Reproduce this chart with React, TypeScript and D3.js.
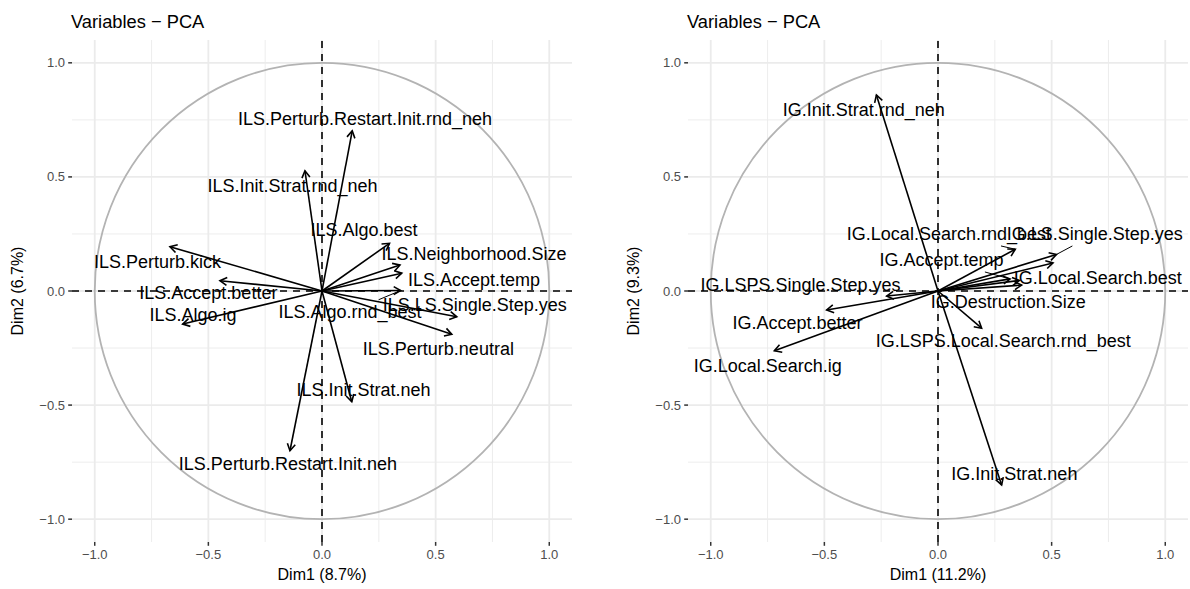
import React from "react";
import * as d3 from "d3";

// ILS variables (left panel): coordinates on Dim1 / Dim2 and where ggrepel put the labels
const ilsNames = [
  "ILS.Perturb.Restart.Init.rnd_neh",
  "ILS.Init.Strat.rnd_neh",
  "ILS.Algo.best",
  "ILS.Neighborhood.Size",
  "ILS.Accept.temp",
  "ILS.Algo.rnd_best",
  "ILS.LS.Single.Step.yes",
  "ILS.Perturb.neutral",
  "ILS.Perturb.kick",
  "ILS.Accept.better",
  "ILS.Algo.ig",
  "ILS.Init.Strat.neh",
  "ILS.Perturb.Restart.Init.neh",
];
const ilsDim1 = [0.133, -0.075, 0.297, 0.343, 0.351, 0.346, 0.593, 0.571, -0.669, -0.449, -0.613, 0.131, -0.141];
const ilsDim2 = [0.702, 0.527, 0.209, 0.114, 0.078, 0.002, -0.113, -0.19, 0.194, 0.045, -0.145, -0.485, -0.7];
const ilsLabelX = [0.189, -0.13, 0.185, 0.669, 0.669, 0.123, 0.672, 0.512, -0.724, -0.5, -0.568, 0.183, -0.15];
const ilsLabelY = [0.754, 0.46, 0.267, 0.162, 0.048, -0.091, -0.061, -0.255, 0.128, -0.006, -0.105, -0.431, -0.755];

// IG variables (right panel); one arrow lost its label (too many overlaps)
const igNames = [
  "IG.Init.Strat.rnd_neh",
  "IG.Local.Search.rnd_best",
  "IG.LS.Single.Step.yes",
  "IG.Local.Search.best",
  "IG.Accept.temp",
  "",
  "IG.Destruction.Size",
  "IG.LSPS.Single.Step.yes",
  "IG.Accept.better",
  "IG.Local.Search.ig",
  "IG.LSPS.Local.Search.rnd_best",
  "IG.Init.Strat.neh",
];
const igDim1 = [-0.271, 0.34, 0.521, 0.506, 0.317, 0.358, 0.368, -0.226, -0.49, -0.72, 0.192, 0.28];
const igDim2 = [0.859, 0.183, 0.16, 0.123, 0.053, 0.046, 0.026, -0.022, -0.083, -0.262, -0.163, -0.85];
const igLabelX = [-0.327, 0.048, 0.69, 0.703, 0.015, 0, 0.309, -0.605, -0.618, -0.749, 0.287, 0.336];
const igLabelY = [0.796, 0.25, 0.25, 0.06, 0.136, 0, -0.047, 0.026, -0.139, -0.329, -0.219, -0.799];

const majorTicks = [-1, -0.5, 0, 0.5, 1];
const minorTicks = [-0.75, -0.25, 0.25, 0.75];

const FONT = '"Liberation Sans", Arial, Helvetica, sans-serif';
const LABEL_SIZE = 18;

const ctx = document.createElement("canvas").getContext("2d");
function textWidth(s: string, size: number) {
  if (!ctx) return s.length * size * 0.5;
  ctx.font = `${size}px "Liberation Sans"`;
  return ctx.measureText(s).width;
}

type PanelProps = {
  left: number;
  names: string[];
  dim1: number[];
  dim2: number[];
  labelX: number[];
  labelY: number[];
  xTitle: string;
  yTitle: string;
};

function Panel({ left, names, dim1, dim2, labelX, labelY, xTitle, yTitle }: PanelProps) {
  const x = d3.scaleLinear().domain([-1.1, 1.1]).range([left, left + 500]);
  const y = d3.scaleLinear().domain([-1.1, 1.1]).range([542, 40]);
  const fmt = d3.format(".1f");
  const [x0, x1] = x.range();
  const [y1, y0] = y.range();
  const cx = x(0);
  const cy = y(0);

  const arrows = dim1.map((d, i) => {
    const tx = x(d);
    const ty = y(dim2[i]);
    const ang = Math.atan2(ty - cy, tx - cx);
    const len = 8;
    const a1 = ang + Math.PI - Math.PI / 6;
    const a2 = ang + Math.PI + Math.PI / 6;
    const head = `M${tx + len * Math.cos(a1)},${ty + len * Math.sin(a1)}L${tx},${ty}L${tx + len * Math.cos(a2)},${ty + len * Math.sin(a2)}`;
    return { tx, ty, head };
  });

  // repel-style segments: only when the label box sits away from its arrow tip
  const labels = names.map((name, i) => {
    const lx = x(labelX[i]);
    const ly = y(labelY[i]);
    const hw = textWidth(name, LABEL_SIZE) / 2 + 3;
    const hh = LABEL_SIZE / 2 + 3;
    const { tx, ty } = arrows[i];
    const dx = tx - lx;
    const dy = ty - ly;
    let seg: number[] | null = null;
    if (Math.abs(dx) > hw || Math.abs(dy) > hh) {
      const t = Math.min(dx !== 0 ? hw / Math.abs(dx) : Infinity, dy !== 0 ? hh / Math.abs(dy) : Infinity);
      const sx = lx + dx * t;
      const sy = ly + dy * t;
      if (Math.hypot(tx - sx, ty - sy) > 12) seg = [sx, sy, tx, ty];
    }
    return { name, lx, ly, seg };
  });

  return (
    <g>
      {minorTicks.map((v) => (
        <g key={"mn" + v}>
          <line x1={x(v)} x2={x(v)} y1={y1} y2={y0} stroke="#EBEBEB" strokeWidth={0.9} />
          <line x1={x0} x2={x1} y1={y(v)} y2={y(v)} stroke="#EBEBEB" strokeWidth={0.9} />
        </g>
      ))}
      {majorTicks.map((v) => (
        <g key={"mj" + v}>
          <line x1={x(v)} x2={x(v)} y1={y1} y2={y0} stroke="#EBEBEB" strokeWidth={1.8} />
          <line x1={x0} x2={x1} y1={y(v)} y2={y(v)} stroke="#EBEBEB" strokeWidth={1.8} />
        </g>
      ))}
      <ellipse cx={cx} cy={cy} rx={x(1) - cx} ry={cy - y(1)} fill="none" stroke="#B3B3B3" strokeWidth={1.8} />
      <line x1={x0} x2={x1} y1={cy} y2={cy} stroke="#000" strokeWidth={1.6} strokeDasharray="7,6" />
      <line x1={cx} x2={cx} y1={y1} y2={y0} stroke="#000" strokeWidth={1.6} strokeDasharray="7,6" />
      {arrows.map((a, i) => (
        <g key={"ar" + i} stroke="#000" strokeWidth={1.6} fill="none">
          <line x1={cx} y1={cy} x2={a.tx} y2={a.ty} />
          <path d={a.head} />
        </g>
      ))}
      {labels.map((l, i) =>
        l.name ? (
          <g key={"lb" + i}>
            {l.seg && (
              <line x1={l.seg[0]} y1={l.seg[1]} x2={l.seg[2]} y2={l.seg[3]} stroke="#000" strokeWidth={1} />
            )}
            <text x={l.lx} y={l.ly} dy="0.35em" textAnchor="middle" fontSize={LABEL_SIZE} fill="#000">
              {l.name}
            </text>
          </g>
        ) : null
      )}
      {/* axes */}
      {majorTicks.map((v) => (
        <g key={"ty" + v}>
          <line x1={x0 - 3.8} x2={x0} y1={y(v)} y2={y(v)} stroke="#333333" strokeWidth={1.5} />
          <text x={x0 - 7} y={y(v)} dy="0.35em" textAnchor="end" fontSize={13} fill="#4D4D4D">
            {fmt(v)}
          </text>
          <line x1={x(v)} x2={x(v)} y1={y1} y2={y1 + 3.8} stroke="#333333" strokeWidth={1.5} />
          <text x={x(v)} y={y1 + 17} textAnchor="middle" fontSize={13} fill="#4D4D4D">
            {fmt(v)}
          </text>
        </g>
      ))}
      <text x={(x0 + x1) / 2} y={580} textAnchor="middle" fontSize={16} fill="#000">
        {xTitle}
      </text>
      <text
        transform={`translate(${x0 - 49},${(y0 + y1) / 2}) rotate(-90)`}
        textAnchor="middle"
        fontSize={16}
        fill="#000"
      >
        {yTitle}
      </text>
      <text x={x0 - 1} y={28} fontSize={18.3} fill="#000">
        Variables − PCA
      </text>
    </g>
  );
}

export default function App() {
  return (
    <svg
      width={1190}
      height={589}
      style={{ position: "absolute", left: 0, top: 0, background: "#fff", fontFamily: FONT }}
    >
      <rect width={1190} height={589} fill="#fff" />
      <Panel
        left={72}
        names={ilsNames}
        dim1={ilsDim1}
        dim2={ilsDim2}
        labelX={ilsLabelX}
        labelY={ilsLabelY}
        xTitle="Dim1 (8.7%)"
        yTitle="Dim2 (6.7%)"
      />
      <Panel
        left={688}
        names={igNames}
        dim1={igDim1}
        dim2={igDim2}
        labelX={igLabelX}
        labelY={igLabelY}
        xTitle="Dim1 (11.2%)"
        yTitle="Dim2 (9.3%)"
      />
    </svg>
  );
}
